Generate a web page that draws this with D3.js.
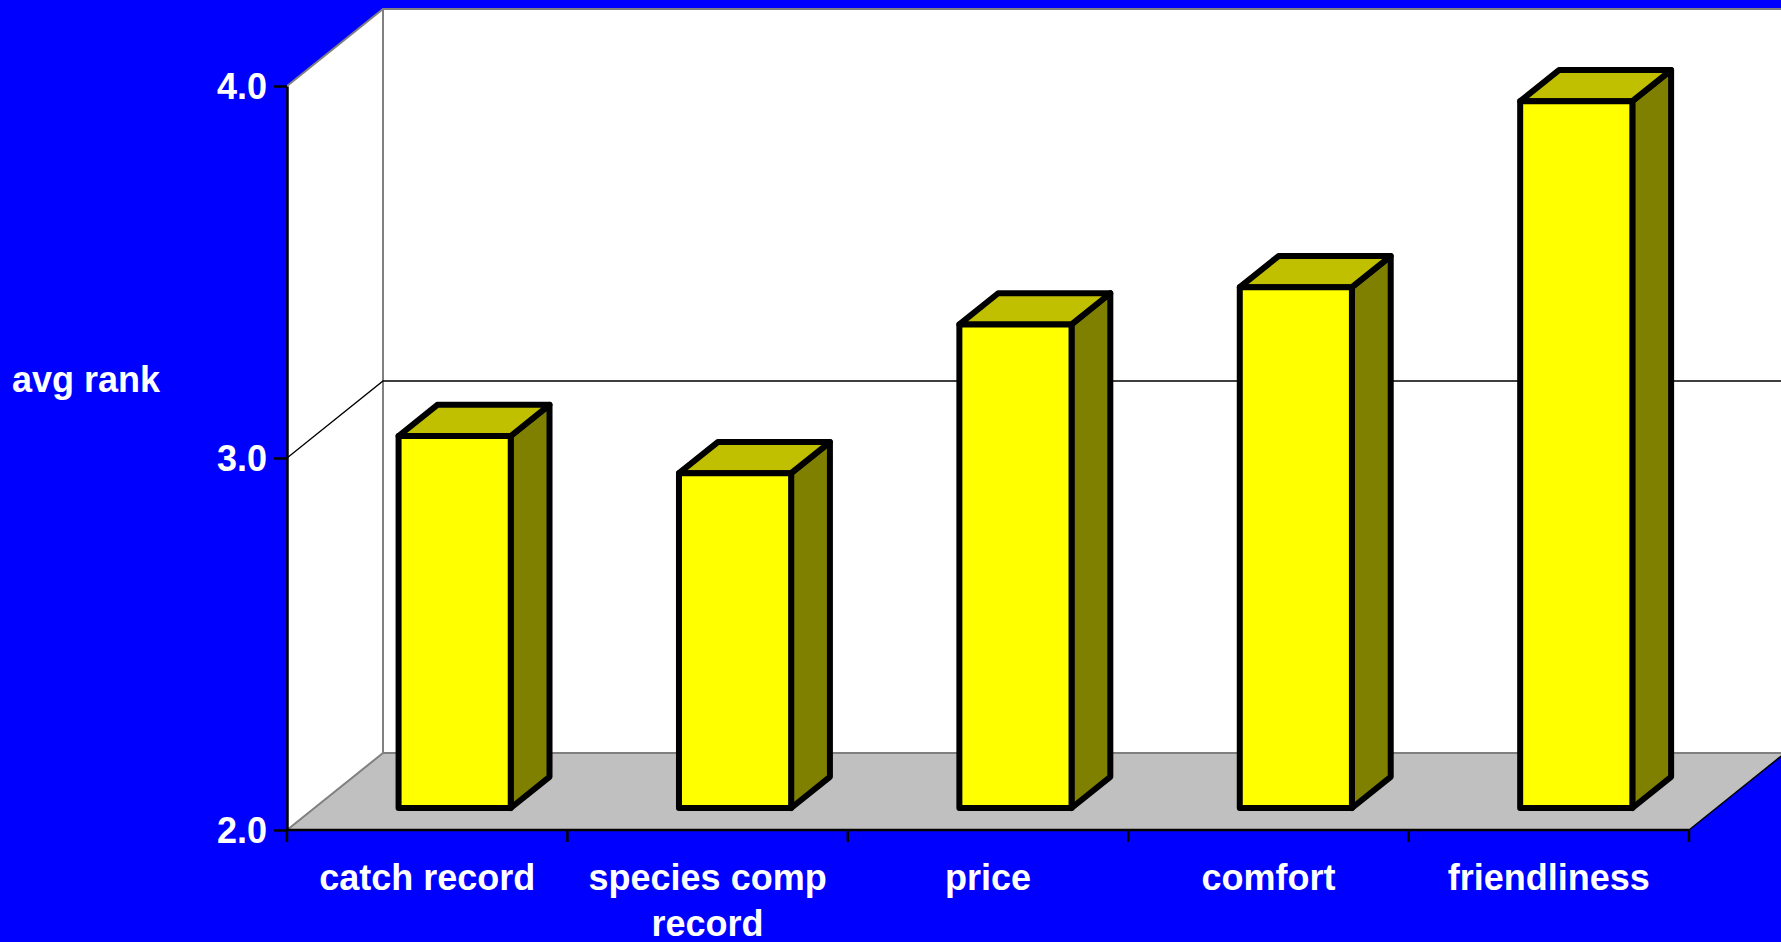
<!DOCTYPE html>
<html>
<head>
<meta charset="utf-8">
<script src="https://cdn.jsdelivr.net/npm/d3@7"></script>
<style>
  html, body { margin: 0; padding: 0; background: #0000ff; }
  svg { display: block; }
  text { font-family: "Liberation Sans", Arial, sans-serif; font-weight: bold; fill: #ffffff; }
</style>
</head>
<body>
<svg id="chart" width="1781" height="942"></svg>
<script>
// ---- data ----
const categories = ["catch record", "species comp record", "price", "comfort", "friendliness"];
const values = [3.0, 2.9, 3.3, 3.4, 3.9];
const yTicks = [2.0, 3.0, 4.0];
const yLabel = "avg rank";

(function () {
// ---- layout ----
const W = 1781, H = 942;
const mLeft = 287, mRight = 1689, mTop = 86, mBottom = 830;
const DX = 96, DY = 77;             // depth offset of back wall
const zFront = 0.286, zBack = 0.69; // bar depth range (fraction of full depth)

const svg = d3.select("#chart");
svg.append("rect").attr("width", W).attr("height", H).attr("fill", "#0000ff");

const x = d3.scaleBand().domain(categories).range([mLeft, mRight]).paddingInner(0).paddingOuter(0);
const y = d3.scaleLinear().domain([2, 4]).range([mBottom, mTop]);
const P = (sx, v, z) => [sx + z * DX, y(v) - z * DY];
const line = d3.line();

const ymin = y.domain()[0], ymax = y.domain()[1];
const xEnd = mRight;

// back wall
svg.append("path")
  .attr("d", line([P(mLeft, ymin, 1), P(mLeft, ymax, 1), P(xEnd + 200, ymax, 1), P(xEnd + 200, ymin, 1)]) + "Z")
  .attr("fill", "#ffffff");
// left wall
svg.append("path")
  .attr("d", line([P(mLeft, ymin, 0), P(mLeft, ymax, 0), P(mLeft, ymax, 1), P(mLeft, ymin, 1)]) + "Z")
  .attr("fill", "#ffffff");
// floor
svg.append("path")
  .attr("d", line([P(mLeft, ymin, 0), P(mLeft, ymin, 1), P(xEnd, ymin, 1), P(xEnd, ymin, 0)]) + "Z")
  .attr("fill", "#c0c0c0");

// wall edges (grey)
const grey = "#808080";
svg.append("path").attr("d", line([P(mLeft, ymax, 0), P(mLeft, ymax, 1), P(xEnd + 200, ymax, 1)]))
  .attr("fill", "none").attr("stroke", grey).attr("stroke-width", 2);
svg.append("path").attr("d", line([P(mLeft, ymax, 1), P(mLeft, ymin, 1), P(xEnd + 200, ymin, 1)]))
  .attr("fill", "none").attr("stroke", grey).attr("stroke-width", 2);
svg.append("path").attr("d", line([P(mLeft, ymin, 0), P(mLeft, ymin, 1)]))
  .attr("fill", "none").attr("stroke", grey).attr("stroke-width", 2);
// right floor edge (black)
svg.append("path").attr("d", line([P(xEnd, ymin, 0), P(xEnd, ymin, 1)]))
  .attr("fill", "none").attr("stroke", "#000").attr("stroke-width", 1.5);

// gridlines (inner ticks)
yTicks.filter(t => t > ymin && t < ymax).forEach(t => {
  svg.append("path").attr("d", line([P(mLeft, t, 0), P(mLeft, t, 1), P(xEnd + 200, t, 1)]))
    .attr("fill", "none").attr("stroke", "#000").attr("stroke-width", 1.3);
});

// bars
const bw = x.bandwidth();
const barG = svg.append("g").attr("stroke", "#000").attr("stroke-width", 6).attr("stroke-linejoin", "round");
categories.forEach((c, i) => {
  const v = values[i];
  const x0 = x(c) + bw * 0.3;
  const x1 = x0 + bw * 0.4;
  const front = [P(x0, ymin, zFront), P(x0, v, zFront), P(x1, v, zFront), P(x1, ymin, zFront)];
  const topF = [P(x0, v, zFront), P(x0, v, zBack), P(x1, v, zBack), P(x1, v, zFront)];
  const side = [P(x1, ymin, zFront), P(x1, v, zFront), P(x1, v, zBack), P(x1, ymin, zBack)];
  barG.append("path").attr("d", line(side) + "Z").attr("fill", "#808000");
  barG.append("path").attr("d", line(topF) + "Z").attr("fill", "#c0c000");
  barG.append("path").attr("d", line(front) + "Z").attr("fill", "#ffff00");
});

// y axis
const yAxis = d3.axisLeft(y).tickValues(yTicks).tickFormat(d3.format(".1f"))
  .tickSize(13).tickSizeOuter(0).tickPadding(7);
const gy = svg.append("g").attr("transform", `translate(${mLeft},0)`).call(yAxis);
gy.select(".domain").attr("stroke", "#000").attr("stroke-width", 2.5);
gy.selectAll(".tick line").attr("stroke", "#000").attr("stroke-width", 2.5);
gy.selectAll(".tick text").attr("font-size", 36).attr("font-family", "Liberation Sans, Arial, sans-serif")
  .attr("font-weight", "bold").attr("fill", "#fff").attr("dy", "0.36em");

// x axis baseline & boundary ticks
svg.append("line").attr("x1", mLeft).attr("x2", mRight).attr("y1", mBottom).attr("y2", mBottom)
  .attr("stroke", "#000").attr("stroke-width", 2.5);
const bounds = categories.map(c => x(c)).concat([x.range()[1]]);
svg.selectAll(".xtick").data(bounds).enter().append("line")
  .attr("x1", d => d).attr("x2", d => d).attr("y1", mBottom).attr("y2", mBottom + 12)
  .attr("stroke", "#000").attr("stroke-width", 2.5);

// x labels (wrapped)
categories.forEach(c => {
  const cx = x(c) + bw / 2;
  const t = svg.append("text").attr("x", cx).attr("y", mBottom + 60)
    .attr("text-anchor", "middle").attr("font-size", 36);
  const words = c.split(" ");
  let lineWords = [];
  let tspan = t.append("tspan").attr("x", cx).attr("dy", 0);
  words.forEach(w => {
    lineWords.push(w);
    tspan.text(lineWords.join(" "));
    if (tspan.node().getComputedTextLength() > bw - 10 && lineWords.length > 1) {
      lineWords.pop();
      tspan.text(lineWords.join(" "));
      lineWords = [w];
      tspan = t.append("tspan").attr("x", cx).attr("dy", "1.28em").text(w);
    }
  });
});

// y label
svg.append("text").attr("x", 12).attr("y", 392).attr("font-size", 36).text(yLabel);
})();
</script>
</body>
</html>
